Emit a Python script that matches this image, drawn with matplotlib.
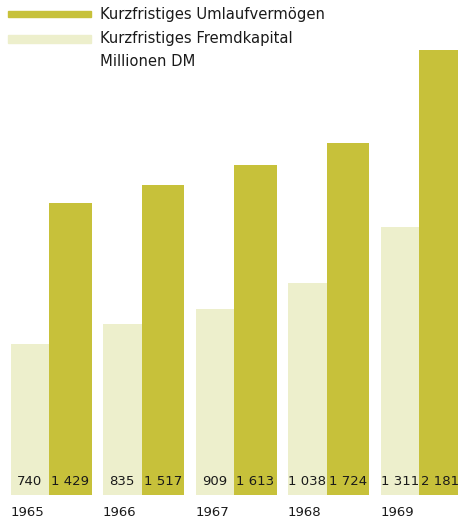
import matplotlib.pyplot as plt
from matplotlib.patches import Rectangle

# data (Millionen DM)
years = ["1965", "1966", "1967", "1968", "1969"]
fremdkapital = [740, 835, 909, 1038, 1311]
umlauf = [1429, 1517, 1613, 1724, 2181]
fremd_labels = ["740", "835", "909", "1 038", "1 311"]
umlauf_labels = ["1 429", "1 517", "1 613", "1 724", "2 181"]

dark = "#c7c13a"
light = "#edefcc"

W, H = 458, 521
fig = plt.figure(figsize=(W / 100, H / 100), dpi=100)
plt.rcParams['font.family'] = ['DejaVu Sans']

ax = fig.add_axes([0, 26.5 / H, 1, 494.5 / H])
x = list(range(len(years)))
ax.bar(x, fremdkapital, width=-0.416, align="edge", color=light)
ax.bar(x, umlauf, width=0.46, align="edge", color=dark)
ax.set_xlim(-49 / 92.5, (W - 49) / 92.5)
ax.set_ylim(0, 2424)
ax.axis("off")

# value labels inside bars near bottom
for i in x:
    ax.text(i - 0.208, 65, fremd_labels[i], ha="center", va="center",
            fontsize=9.5, color="#1a1a1a")
    ax.text(i + 0.23, 65, umlauf_labels[i], ha="center", va="center",
            fontsize=9.5, color="#1a1a1a")
    # year labels under bars
    ax.annotate(years[i], (i - 0.416, 0), xytext=(0, -13),
                textcoords="offset points", ha="left", va="center",
                fontsize=9.5, color="#1a1a1a", annotation_clip=False)

# legend
fig.add_artist(Rectangle((8 / W, 1 - 17 / H), 83 / W, 6 / H,
                         transform=fig.transFigure, color=dark))
fig.add_artist(Rectangle((8 / W, 1 - 43 / H), 83 / W, 8 / H,
                         transform=fig.transFigure, color=light))
legend_text = ["Kurzfristiges Umlaufvermögen", "Kurzfristiges Fremdkapital",
               "Millionen DM"]
for k, s in enumerate(legend_text):
    fig.text(100 / W, 1 - (14 + 24 * k) / H, s, ha="left", va="center",
             fontsize=10.6, color="#1a1a1a")

fig.savefig("out.png", dpi=100)
